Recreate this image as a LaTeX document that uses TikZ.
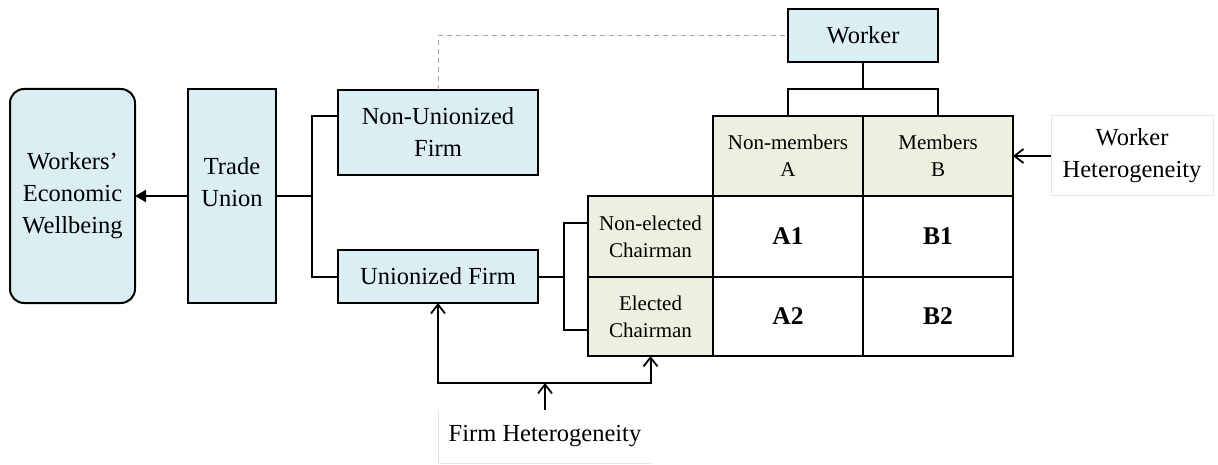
\documentclass[tikz,border=0pt]{standalone}
\usepackage{fontspec}
\setmainfont{Liberation Serif}
\usetikzlibrary{arrows.meta,calc}
\definecolor{bluefill}{HTML}{DBEEF4}
\definecolor{greenfill}{HTML}{EBF1DE}
\newcommand\fbig{\fontsize{24.5}{32}\selectfont}
\newcommand\fsmall{\fontsize{21}{27}\selectfont}
\begin{document}
\begin{tikzpicture}[x=1pt,y=-1pt,
 bx/.style={draw=black, line width=2pt, fill=bluefill, inner sep=0pt, outer sep=0pt, align=center, font=\fbig},
 gc/.style={draw=black, line width=2pt, fill=greenfill, inner sep=0pt, outer sep=0pt, align=center, font=\fsmall},
 wc/.style={draw=black, line width=2pt, fill=white, inner sep=0pt, outer sep=0pt, font=\fontsize{25.5}{30}\selectfont\bfseries},
 conn/.style={line width=2pt},
 arr/.style={conn, -{Straight Barb[length=9pt,width=14pt,line width=1.8pt]}},
 lbl/.style={inner sep=0pt, outer sep=0pt, align=center, font=\fbig},
]
\useasboundingbox (0,0) rectangle (1218,465);

% left boxes
\node[bx, rounded corners=14pt, minimum width=125pt, minimum height=214pt] (wb) at (72.5,196) {Workers’\\Economic\\Wellbeing};
\node[bx, minimum width=88pt, minimum height=214pt] (tu) at (232,196) {};
\node[lbl] (tut) at (232,182) {Trade\\Union};

% firms
\node[bx, minimum width=200pt, minimum height=85pt] (nu) at (438,132.5) {Non-Unionized\\Firm};
\node[bx, minimum width=200pt, minimum height=53pt] (uf) at (438,276.5) {Unionized Firm};
\node[bx, minimum width=150pt, minimum height=53pt] (wk) at (863,35.5) {Worker};

% table
\node[gc, minimum width=150pt, minimum height=80pt] (nm) at (788,156) {Non-members\\A};
\node[gc, minimum width=150pt, minimum height=80pt] (mb) at (938,156) {Members\\B};
\node[gc, minimum width=125pt, minimum height=81pt] (ne) at (650.5,236.5) {Non-elected\\Chairman};
\node[gc, minimum width=125pt, minimum height=79pt] (el) at (650.5,316.5) {Elected\\Chairman};
\node[wc, minimum width=150pt, minimum height=81pt] (a1) at (788,236.5) {A1};
\node[wc, minimum width=150pt, minimum height=81pt] (b1) at (938,236.5) {B1};
\node[wc, minimum width=150pt, minimum height=79pt] (a2) at (788,316.5) {A2};
\node[wc, minimum width=150pt, minimum height=79pt] (b2) at (938,316.5) {B2};

% labels
\node[lbl, minimum width=214pt, minimum height=53pt] (fh) at (545,436.5) {Firm Heterogeneity};
\draw[black!10, line width=1pt] (fh.north west) |- (fh.south east);
\node[lbl, minimum width=162pt, minimum height=80pt, draw=black!10, line width=1pt] (wh) at (1132,156) {Worker\\Heterogeneity};

% connectors
\draw[conn, -{Triangle[length=11pt,width=12pt]}] (tu.west) -- (wb.east);
\coordinate (tuj) at (312,196);
\draw[conn] (tu.east) -- (tuj);
\draw[conn] ([yshift=16.5pt]nu.west) -| (tuj) |- (uf.west);

\draw[gray!70, line width=1pt, dash pattern=on 5pt off 4pt] (nu.north) |- (wk.west);

\coordinate (wj) at (863,89);
\draw[conn] (wk.south) -- (wj);
\draw[conn] (nm.north) |- (wj) -| (mb.north);

\coordinate (cj) at (564,276.5);
\draw[conn] (uf.east) -- (cj);
\draw[conn] ([yshift=13.5pt]ne.west) -| (cj) |- ([yshift=-13.5pt]el.west);

\coordinate (fj) at (545,383);
\draw[arr] (fh.north) -- (fj);
\draw[arr] (fj) -| (uf.south);
\draw[arr] (fj) -| (el.south);
\draw[arr] (wh.west) -- (mb.east);
\end{tikzpicture}
\end{document}
